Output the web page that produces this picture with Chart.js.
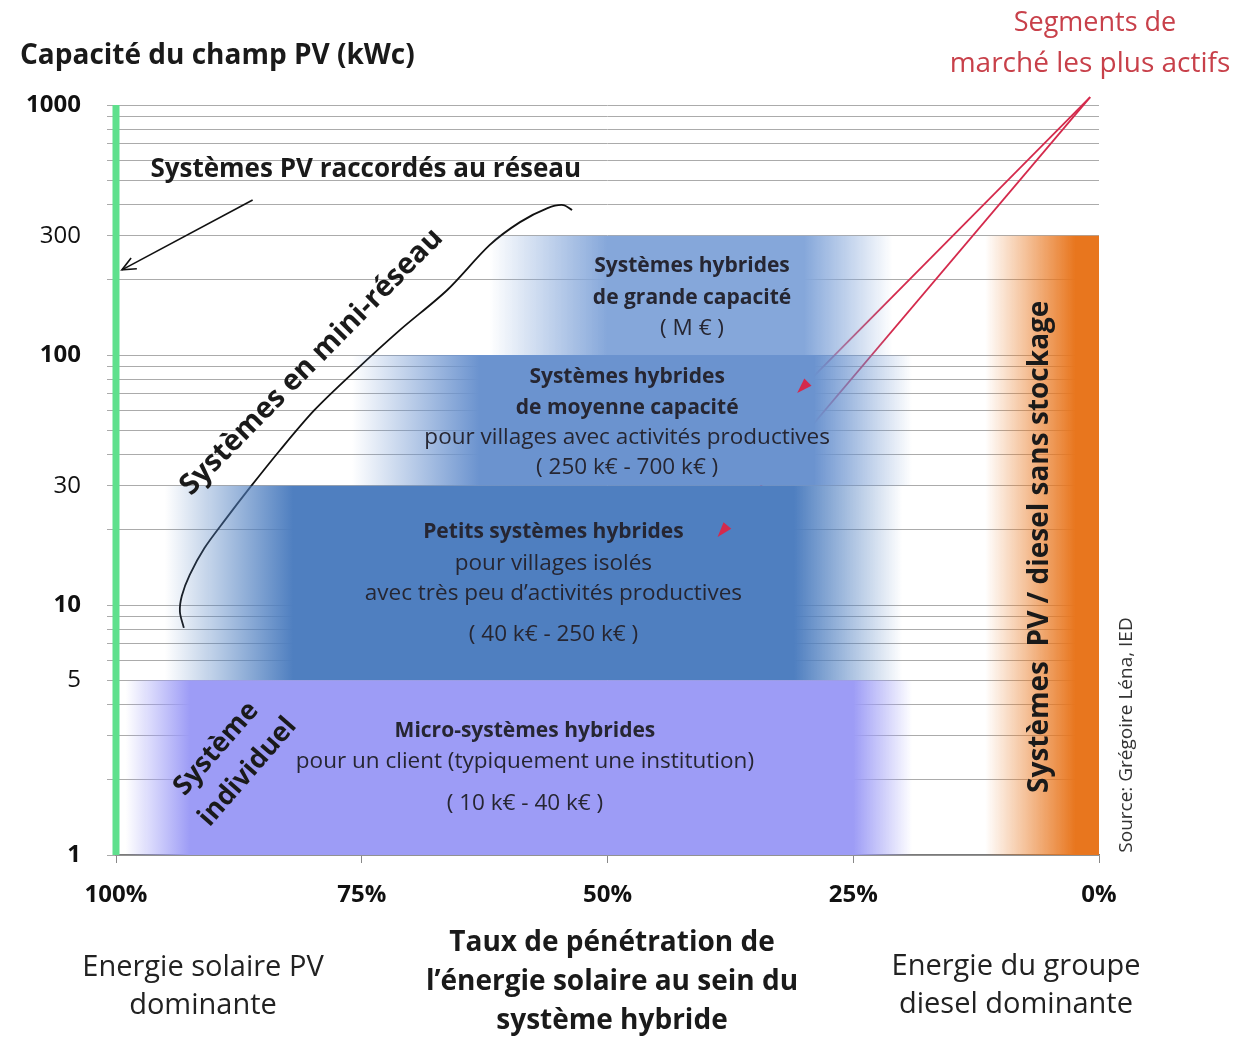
<!DOCTYPE html>
<html>
<head>
<meta charset="utf-8">
<script src="https://cdn.jsdelivr.net/npm/chart.js@4"></script>
<style>
  html, body { margin: 0; padding: 0; background: #fff; }
</style>
</head>
<body>
<canvas id="myChart" width="1237" height="1037"></canvas>
<script>
// axes
const xTicks = [100, 75, 50, 25, 0];
const yTickLabels = [1, 5, 10, 30, 100, 300, 1000];
const yGrid = [1, 2, 3, 4, 5, 6, 7, 8, 9, 10, 20, 30, 40, 50, 60, 70, 80, 90,
               100, 200, 300, 400, 500, 600, 700, 800, 900, 1000];

// bands: micro, petits, moyenne, grande, diesel (x in % solar, y in kWc)
const bandLow = [1, 5, 30, 100, 1];
const bandHigh = [5, 30, 100, 300, 300];
const bandFadeIn = [99, 95, 76, 62, 11.6];
const bandSolidFrom = [92.5, 82, 63, 50, 2.4];
const bandSolidTo = [25, 31, 29, 30, 0];
const bandFadeOut = [19, 20, 19, 21, 0];
const bandRgb = ['157,156,246', '79,127,192', '107,147,207', '133,167,218', '232,118,30'];

// "Systèmes en mini-réseau" curve
const miniX = [93.1, 93.5, 93.3, 92.5, 91.0, 88.9, 86.4, 83.3, 79.8, 75.6, 71.1, 66.3, 62.0, 58.9, 56.1, 54.5, 53.6];
const miniY = [8.1, 9.4, 10.9, 13.2, 16.9, 21.9, 29.4, 41.7, 60.3, 87, 126, 182, 275, 340, 387, 398, 380];

// arrows
const gridArrowX = [86.1, 99.4];
const gridArrowY = [417, 219];
const redArrow1X = [0.9, 30.7];
const redArrow1Y = [1076, 70.5];
const redArrow2X = [0.9, 38.8];
const redArrow2Y = [1076, 18.7];

const FONT = '"Open Sans"';

function pts(xs, ys) {
  return xs.map((x, i) => ({x: x, y: ys[i]}));
}

function bandFill(i) {
  return function(c) {
    const chart = c.chart;
    if (!chart.chartArea) return 'rgba(0,0,0,0)';
    const xs = chart.scales.x;
    const a = xs.getPixelForValue(bandFadeIn[i]);
    const b = xs.getPixelForValue(bandSolidFrom[i]);
    const s = xs.getPixelForValue(bandSolidTo[i]);
    const d = xs.getPixelForValue(bandFadeOut[i]);
    const g = chart.ctx.createLinearGradient(a, 0, d, 0);
    const w = d - a;
    const col = bandRgb[i];
    g.addColorStop(0, 'rgba(' + col + ',0)');
    g.addColorStop((b - a) / w, 'rgba(' + col + ',1)');
    g.addColorStop(Math.min(1, (s - a) / w), 'rgba(' + col + ',1)');
    if (s < d) g.addColorStop(1, 'rgba(' + col + ',0)');
    return g;
  };
}

const datasets = [];
for (let i = 0; i < bandLow.length; i++) {
  datasets.push({
    data: [{x: bandFadeIn[i], y: bandHigh[i]}, {x: bandFadeOut[i], y: bandHigh[i]}],
    fill: {value: bandLow[i]},
    backgroundColor: bandFill(i),
    borderWidth: 0,
    pointRadius: 0,
    tension: 0
  });
}
datasets.push({
  data: [{x: 100, y: 1}, {x: 100, y: 1000}],
  borderColor: '#5fe08d', borderWidth: 7, pointRadius: 0, fill: false, clip: false
});
datasets.push({
  data: pts(miniX, miniY),
  borderColor: '#111', borderWidth: 1.8, pointRadius: 0, fill: false, tension: 0.3
});
datasets.push({
  data: pts(gridArrowX, gridArrowY),
  borderColor: '#111', borderWidth: 1.6, pointRadius: 0, fill: false, arrowHead: 'open'
});
datasets.push({
  data: pts(redArrow1X, redArrow1Y),
  borderColor: '#d42a4c', borderWidth: 1.8, pointRadius: 0, fill: false, clip: false, arrowHead: 'solid'
});
datasets.push({
  data: pts(redArrow2X, redArrow2Y),
  borderColor: '#d42a4c', borderWidth: 1.8, pointRadius: 0, fill: false, clip: false, arrowHead: 'solid'
});

// labels inside the plot (x in %, y in kWc)
const plotLabels = [
  {t: 'Systèmes PV raccordés au réseau', x: 96.5, y: 550, b: true, s: 26, al: 'left', c: '#1a1a1a'},
  {t: 'Systèmes hybrides', x: 41.4, y: 227, b: true, s: 21},
  {t: 'de grande capacité', x: 41.4, y: 169, b: true, s: 21},
  {t: '( M € )', x: 41.4, y: 128},
  {t: 'Systèmes hybrides', x: 48, y: 81.7, b: true, s: 21},
  {t: 'de moyenne capacité', x: 48, y: 61.4, b: true, s: 21},
  {t: 'pour villages avec activités productives', x: 48, y: 46.6},
  {t: '( 250 k€ - 700 k€ )', x: 48, y: 35.6},
  {t: 'Petits systèmes hybrides', x: 55.5, y: 19.6, b: true, s: 21},
  {t: 'pour villages isolés', x: 55.5, y: 14.7},
  {t: 'avec très peu d’activités productives', x: 55.5, y: 11.1},
  {t: '( 40 k€ - 250 k€ )', x: 55.5, y: 7.59},
  {t: 'Micro-systèmes hybrides', x: 58.4, y: 3.13, b: true, s: 21},
  {t: 'pour un client (typiquement une institution)', x: 58.4, y: 2.36},
  {t: '( 10 k€ - 40 k€ )', x: 58.4, y: 1.61},
  {t: 'Systèmes en mini-réseau', x: 80.1, y: 93.8, b: true, s: 29, r: -45.5, c: '#1a1a1a'},
  {t: 'Système', x: 89.8, y: 2.66, b: true, s: 27, r: -49, c: '#1a1a1a'},
  {t: 'individuel', x: 86.6, y: 2.15, b: true, s: 27, r: -49, c: '#1a1a1a'},
  {t: 'Systèmes  PV / diesel sans stockage', x: 6.0, y: 17.1, b: true, s: 28, r: -90, c: '#1a1a1a'}
];

function drawText(ctx, t, x, y, o) {
  ctx.save();
  ctx.font = (o.b ? 'bold ' : '') + (o.s || 22.5) + 'px ' + FONT;
  ctx.fillStyle = o.c || '#262632';
  ctx.textAlign = o.al || 'center';
  ctx.textBaseline = 'middle';
  ctx.translate(x, y);
  if (o.r) ctx.rotate(o.r * Math.PI / 180);
  ctx.fillText(t, 0, 0);
  ctx.restore();
}

const arrowHeads = {
  id: 'arrowHeads',
  afterDatasetsDraw(chart) {
    const ctx = chart.ctx;
    chart.data.datasets.forEach((ds, i) => {
      if (!ds.arrowHead) return;
      const el = chart.getDatasetMeta(i).data;
      const p = el[el.length - 1], q = el[el.length - 2];
      const ang = Math.atan2(p.y - q.y, p.x - q.x);
      const L = ds.arrowHead === 'open' ? 15 : 16;
      const w = ds.arrowHead === 'open' ? 0.42 : 0.32;
      ctx.save();
      ctx.strokeStyle = ds.borderColor;
      ctx.fillStyle = ds.borderColor;
      ctx.lineWidth = ds.borderWidth;
      ctx.beginPath();
      ctx.moveTo(p.x - L * Math.cos(ang - w), p.y - L * Math.sin(ang - w));
      ctx.lineTo(p.x, p.y);
      ctx.lineTo(p.x - L * Math.cos(ang + w), p.y - L * Math.sin(ang + w));
      if (ds.arrowHead === 'open') {
        ctx.stroke();
      } else {
        ctx.closePath();
        ctx.fill();
      }
      ctx.restore();
    });
  }
};

const texts = {
  id: 'texts',
  afterDraw(chart) {
    const ctx = chart.ctx;
    const xs = chart.scales.x, ys = chart.scales.y;
    plotLabels.forEach(l => {
      drawText(ctx, l.t, xs.getPixelForValue(l.x), ys.getPixelForValue(l.y), l);
    });
    const dark = '#1a1a1a';
    drawText(ctx, 'Capacité du champ PV (kWc)', 20, 56, {b: true, s: 28, al: 'left', c: dark});
    drawText(ctx, 'Segments de', 1095, 23, {s: 27, c: '#c8404a'});
    drawText(ctx, 'marché les plus actifs', 1090, 64, {s: 28, c: '#c8404a'});
    drawText(ctx, 'Source: Grégoire Léna, IED', 1127, 735, {s: 19, r: -90, c: '#333'});
    drawText(ctx, 'Taux de pénétration de', 612, 943, {b: true, s: 28, c: dark});
    drawText(ctx, 'l’énergie solaire au sein du', 612, 982, {b: true, s: 28, c: dark});
    drawText(ctx, 'système hybride', 612, 1021, {b: true, s: 28, c: dark});
    drawText(ctx, 'Energie solaire PV', 203, 968, {s: 29, c: '#222'});
    drawText(ctx, 'dominante', 203, 1006, {s: 29, c: '#222'});
    drawText(ctx, 'Energie du groupe', 1016, 967, {s: 29, c: '#222'});
    drawText(ctx, 'diesel dominante', 1016, 1005, {s: 29, c: '#222'});
  }
};

new Chart('myChart', {
  type: 'line',
  data: {datasets: datasets},
  plugins: [arrowHeads, texts],
  options: {
    responsive: false,
    animation: false,
    layout: {padding: {top: 105, right: 138, left: 0, bottom: 0}},
    plugins: {legend: {display: false}, tooltip: {enabled: false}, title: {display: false}},
    scales: {
      x: {
        type: 'linear', min: 0, max: 100, reverse: true,
        afterBuildTicks: s => { s.ticks = xTicks.map(v => ({value: v})); },
        afterFit: s => { s.height = 182; },
        ticks: {
          callback: v => v + '%', autoSkip: false, maxRotation: 0, padding: 18,
          color: '#111', font: {family: 'Open Sans', size: 24, weight: 'bold'}
        },
        grid: {drawOnChartArea: false, drawTicks: true, tickLength: 8, color: '#888'},
        border: {display: true, color: '#7a7a7a', width: 1.5}
      },
      y: {
        type: 'logarithmic', min: 1, max: 1000,
        afterBuildTicks: s => { s.ticks = yGrid.map(v => ({value: v})); },
        afterFit: s => { s.width = 116; },
        ticks: {
          callback: v => yTickLabels.includes(v) ? String(v) : '',
          autoSkip: false, padding: 26, color: '#111',
          font: c => ({family: 'Open Sans', size: 24,
            weight: (c.tick && Number.isInteger(Math.log10(c.tick.value))) ? 'bold' : 'normal'})
        },
        grid: {color: '#ababab', lineWidth: 1, tickLength: 9, drawTicks: true},
        border: {display: false}
      }
    }
  }
});
</script>
</body>
</html>
